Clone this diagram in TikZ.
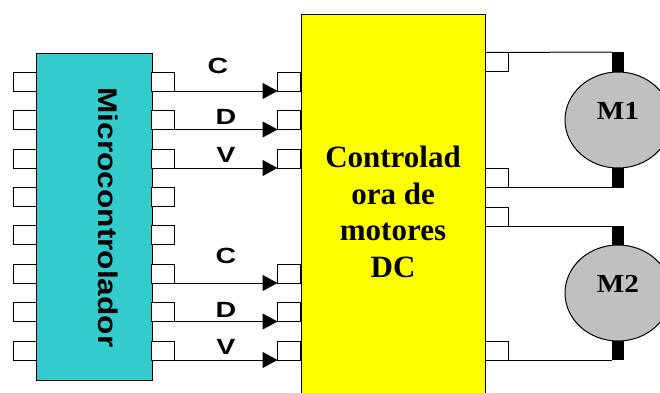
\documentclass[tikz,border=0pt]{standalone}
\usepackage{fontspec}
\setmainfont{Liberation Serif}
\setsansfont{Liberation Sans}
\usetikzlibrary{arrows.meta,shapes.geometric}
\begin{document}
\begin{tikzpicture}[x=1pt,y=-1pt,line width=1pt,
  chip/.style={draw,outer sep=0pt,inner sep=0pt},
  pinbox/.style={draw,fill=white,minimum width=23pt,minimum height=19pt,inner sep=0pt,outer sep=0pt},
  stub/.style={fill=black,minimum width=12pt,minimum height=21pt,inner sep=0pt,outer sep=0pt},
  motor/.style={draw,ellipse,fill={rgb,255:red,192;green,192;blue,192},minimum width=106pt,minimum height=96pt,inner sep=0pt,outer sep=0pt},
  sig/.style={font=\sffamily\bfseries\fontsize{22}{24}\selectfont,inner sep=0pt},
  mlabel/.style={font=\bfseries\fontsize{26}{28}\selectfont,inner sep=0pt},
  wire/.style={-{Triangle[length=15pt,width=16pt]}}]
\useasboundingbox (0,0) rectangle (660,392);
\clip (0,0) rectangle (660,392);
\node[chip,fill={rgb,255:red,51;green,204;blue,204},minimum width=116pt,minimum height=327pt] (micro) at (94,216.5) {};
\node[chip,fill={rgb,255:red,255;green,255;blue,0},minimum width=184pt,minimum height=392pt] (ctrl) at (393,210) {};
% pines del microcontrolador
\node[pinbox] (ul1) at (24.5,81.5) {};
\node[pinbox] (ul2) at (24.5,120) {};
\node[pinbox] (ul3) at (24.5,158.5) {};
\node[pinbox] (ul4) at (24.5,197) {};
\node[pinbox] (ul5) at (24.5,235) {};
\node[pinbox] (ul6) at (24.5,273.5) {};
\node[pinbox] (ul7) at (24.5,312) {};
\node[pinbox] (ul8) at (24.5,350.5) {};
\node[pinbox] (ur1) at (163,81.5) {};
\node[pinbox] (ur2) at (163,120) {};
\node[pinbox] (ur3) at (163,158.5) {};
\node[pinbox] (ur4) at (163,197) {};
\node[pinbox] (ur5) at (163,235) {};
\node[pinbox] (ur6) at (163,273.5) {};
\node[pinbox] (ur7) at (163,312) {};
\node[pinbox] (ur8) at (163,350.5) {};
% pines del controlador
\node[pinbox] (cl1) at (289,81.5) {};
\node[pinbox] (cl2) at (289,120) {};
\node[pinbox] (cl3) at (289,158.5) {};
\node[pinbox] (cl6) at (289,273.5) {};
\node[pinbox] (cl7) at (289,312) {};
\node[pinbox] (cl8) at (289,350.5) {};
\node[pinbox] (cr1) at (496.5,62) {};
\node[pinbox] (cr2) at (496.5,178) {};
\node[pinbox] (cr3) at (496.5,216.5) {};
\node[pinbox] (cr4) at (496.5,350.5) {};
\node[font=\sffamily\bfseries\fontsize{27}{29}\selectfont,inner sep=0pt,rotate=-90] (microtxt) at (108,217.5) {\scalebox{1.17}[1]{Microcontrolador}};
\node[align=center,font=\bfseries\fontsize{31}{36.7}\selectfont,inner sep=0pt] (ctrltxt) at (393,212) {Controlad\\ora de\\motores\\DC};
% senales
\draw[wire] (ur1.south west) -- (cl1.south west);
\draw[wire] (ur2.south west) -- (cl2.south west);
\draw[wire] (ur3.south west) -- (cl3.south west);
\draw[wire] (ur6.south west) -- (cl6.south west);
\draw[wire] (ur7.south west) -- (cl7.south west);
\draw[wire] (ur8.south west) -- (cl8.south west);
\node[sig] (c1) at (218,65.5) {\scalebox{1.3}[1]{C}};
\node[sig] (d1) at (226,117) {\scalebox{1.3}[1]{D}};
\node[sig] (v1) at (226,155) {\scalebox{1.3}[1]{V}};
\node[sig] (c2) at (226,256) {\scalebox{1.3}[1]{C}};
\node[sig] (d2) at (226,310) {\scalebox{1.3}[1]{D}};
\node[sig] (v2) at (226,347) {\scalebox{1.3}[1]{V}};
% motores
\node[stub] (s1a) at (618,62.5) {};
\node[stub] (s1b) at (618,177) {};
\node[stub] (s2a) at (618,236.5) {};
\node[stub] (s2b) at (618,349.5) {};
\node[motor] (m1) at (618,120) {};
\node[motor] (m2) at (618,293) {};
\node[mlabel] (m1txt) at (618,111) {\scalebox{1.12}[1]{M1}};
\node[mlabel] (m2txt) at (618,284) {\scalebox{1.12}[1]{M2}};
\draw (cr1.north west) -- (s1a.north west);
\draw (cr2.south west) -- (s1b.south west);
\draw (cr3.south west) -- (s2a.north west);
\draw (cr4.south west) -- (s2b.south west);
\end{tikzpicture}
\end{document}
